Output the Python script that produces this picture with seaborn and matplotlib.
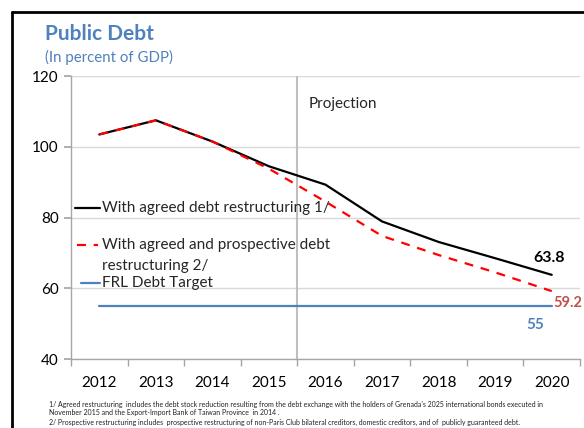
import matplotlib
matplotlib.use("Agg")
import matplotlib.pyplot as plt
from matplotlib.lines import Line2D
import seaborn as sns
import pandas as pd

years = [2012, 2013, 2014, 2015, 2016, 2017, 2018, 2019, 2020]
agreed = [103.5, 107.5, 101.5, 94.5, 89.3, 78.9, 73.1, 68.5, 63.8]
prospective = [103.5, 107.5, 101.5, 93.8, 84.5, 74.8, 69.4, 64.5, 59.2]
frl_target = [55] * len(years)

label_agreed = "With agreed debt restructuring 1/"
label_prosp_1 = "With agreed and prospective debt"
label_prosp_2 = "restructuring 2/"
label_frl = "FRL Debt Target"

sns.set_theme(style="white")
plt.rcParams["font.family"] = ["Lato", "DejaVu Sans"]

BLUE = "#4F81BD"
RED = "#FF0000"
LABEL_RED = "#C0504D"
GRID = "#D9D9D9"
DASH = (0, (4, 3.5))

df = pd.DataFrame({"year": years, "agreed": agreed,
                   "prospective": prospective, "frl": frl_target})

fig = plt.figure(figsize=(5.84, 4.28), dpi=100)
ax = fig.add_axes([71 / 584, 0.1612, 509 / 584, 0.661])

sns.lineplot(data=df, x="year", y="agreed", ax=ax, color="black", lw=1.6,
             legend=False)
sns.lineplot(data=df, x="year", y="prospective", ax=ax, color=RED, lw=1.6,
             legend=False)
ax.lines[-1].set_linestyle(DASH)
sns.lineplot(data=df, x="year", y="frl", ax=ax, color=BLUE, lw=1.6,
             legend=False)

ax.set_xlim(2011.5, 2020.5)
ax.set_ylim(40, 120)
ax.set_yticks([40, 60, 80, 100, 120])
ax.set_xticks(years)
ax.set_xticks([y - 0.5 for y in years] + [2020.5], minor=True)
ax.tick_params(axis="x", which="major", length=0, labelsize=11, pad=12)
ax.tick_params(axis="x", which="minor", length=5, color="#A6A6A6",
               direction="out", bottom=True)
ax.tick_params(axis="y", length=5, color="#A6A6A6", direction="out",
               left=True, labelsize=11, pad=4)
ax.set_xlabel("")
ax.set_ylabel("")
for t in ax.get_xticklabels() + ax.get_yticklabels():
    t.set_color("black")

ax.yaxis.grid(True, color=GRID, lw=1)
ax.set_axisbelow(True)
for side in ["top", "right"]:
    ax.spines[side].set_visible(False)
for side in ["left", "bottom"]:
    ax.spines[side].set_color("#A6A6A6")
    ax.spines[side].set_linewidth(1)

# projection divider
ax.axvline(2015.5, color="#BFBFBF", lw=1.5, zorder=1)
ax.text(2015.7, 112, "Projection", fontsize=11, va="center", ha="left")

# end-point labels
ax.annotate(f"{agreed[-1]:.1f}", xy=(2020, agreed[-1]),
            xytext=(-3, 10), textcoords="offset pixels", fontsize=11.5,
            fontweight="bold", ha="center", va="bottom", color="black")
ax.annotate(f"{prospective[-1]:.1f}", xy=(2020, prospective[-1]),
            xytext=(2, -12), textcoords="offset pixels", fontsize=10.5,
            fontweight="bold", ha="left", va="center", color=LABEL_RED,
            annotation_clip=False)
ax.annotate(f"{frl_target[-1]}", xy=(2020, frl_target[-1]),
            xytext=(-17, -12), textcoords="offset pixels", fontsize=11,
            fontweight="bold", ha="center", va="top", color=BLUE)

# legend keys drawn inside the plot area
tr = ax.transAxes
key_rows = [
    (0.534, 0.008, 0.057, "black", "-", label_agreed),
    (0.403, 0.012, 0.053, RED, DASH, label_prosp_1),
    (0.269, 0.020, 0.057, BLUE, "-", label_frl),
]
for y, x0, x1, c, ls, txt in key_rows:
    ax.add_line(Line2D([x0, x1], [y, y], color=c, lw=1.6, linestyle=ls,
                       transform=tr, clip_on=False))
    ax.text(0.061, y, txt, fontsize=11, va="center", ha="left", transform=tr)
ax.text(0.061, 0.329, label_prosp_2, fontsize=11, va="center",
        ha="left", transform=tr)

# titles
fig.text(45 / 584, 1 - 34 / 428, "Public Debt", fontsize=15, fontweight="bold",
         color=BLUE, va="center", ha="left")
fig.text(45 / 584, 1 - 57 / 428, "(In percent of GDP)", fontsize=10.8,
         color=BLUE, va="center", ha="left")

# footnotes
notes = [
    "1/ Agreed restructuring  includes the debt stock reduction resulting from the debt exchange with the holders of Grenada's 2025 international bonds executed in",
    "November 2015 and the Export-Import Bank of Taiwan Province  in 2014 .",
    "2/ Prospective restructuring includes  prospective restructuring of non-Paris Club bilateral creditors, domestic creditors, and of  publicly guaranteed debt.",
]
for line, ypx in zip(notes, [404, 413, 422]):
    fig.text(49 / 584, 1 - ypx / 428, line, fontsize=5.0, va="center",
             ha="left", color="#222222")

# frame
fig.add_artist(Line2D([12 / 584, 1], [1 - 12 / 428, 1 - 12 / 428],
                      color="black", lw=2, transform=fig.transFigure))
fig.add_artist(Line2D([12 / 584, 12 / 584], [0, 1 - 12 / 428],
                      color="black", lw=2, transform=fig.transFigure))

fig.savefig("out.png", dpi=100)
